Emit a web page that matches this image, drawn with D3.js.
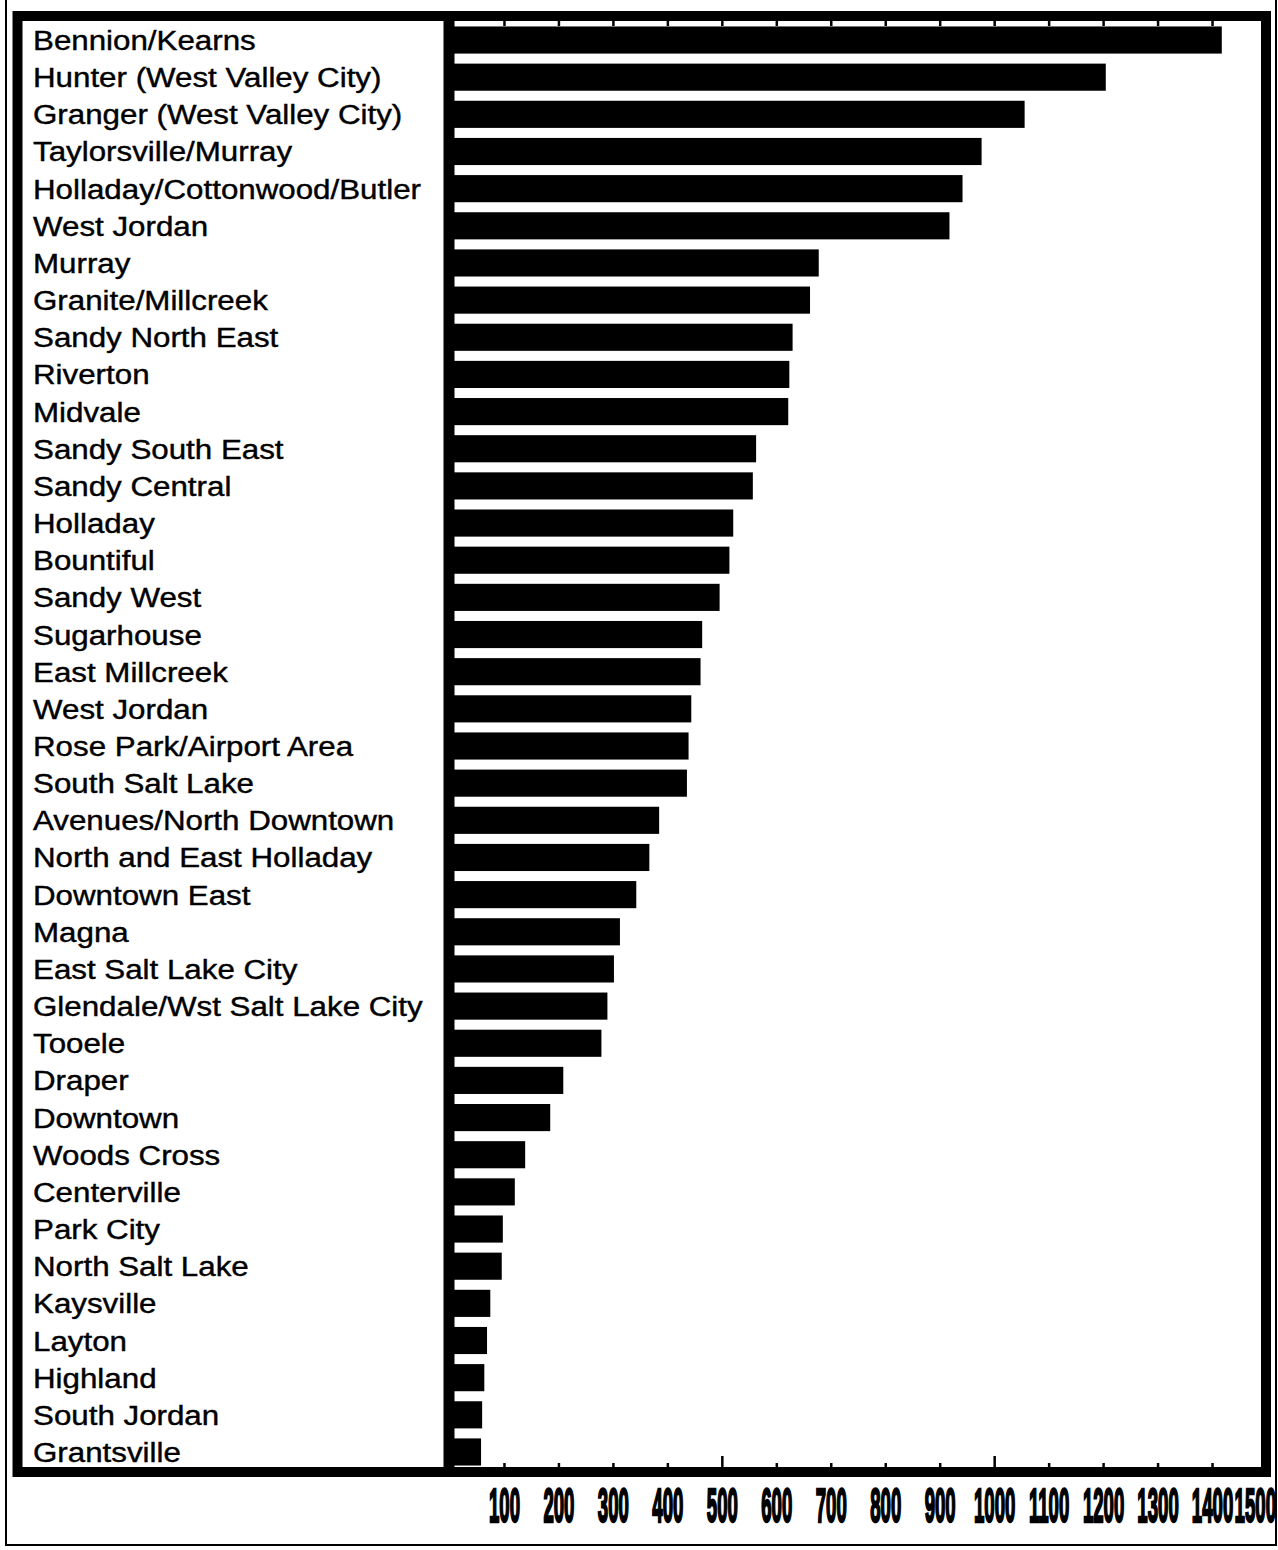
<!DOCTYPE html>
<html>
<head>
<meta charset="utf-8">
<script src="https://cdn.jsdelivr.net/npm/d3@7"></script>
<style>
	body { margin: 0; background: #fff; }
	svg { display: block; }
</style>
</head>
<body>
<svg id="chart" width="1278" height="1550"></svg>
<script>
// Areas, top to bottom, as printed
var areas = [
	"Bennion/Kearns", "Hunter (West Valley City)", "Granger (West Valley City)",
	"Taylorsville/Murray", "Holladay/Cottonwood/Butler", "West Jordan", "Murray",
	"Granite/Millcreek", "Sandy North East", "Riverton", "Midvale", "Sandy South East",
	"Sandy Central", "Holladay", "Bountiful", "Sandy West", "Sugarhouse", "East Millcreek",
	"West Jordan", "Rose Park/Airport Area", "South Salt Lake", "Avenues/North Downtown",
	"North and East Holladay", "Downtown East", "Magna", "East Salt Lake City",
	"Glendale/Wst Salt Lake City", "Tooele", "Draper", "Downtown", "Woods Cross",
	"Centerville", "Park City", "North Salt Lake", "Kaysville", "Layton", "Highland",
	"South Jordan", "Grantsville"
];

// Values
var counts = [
	1417, 1204, 1055, 976, 941, 917, 677, 661, 629, 623, 621, 562, 556, 520, 513,
	495, 463, 460, 443, 438, 435, 384, 366, 342, 312, 301, 289, 278, 208, 184,
	138, 119, 97, 95, 74, 68, 63, 59, 57
];

// Axis ticks
var tickVals = [100, 200, 300, 400, 500, 600, 700, 800, 900, 1000, 1100, 1200, 1300, 1400, 1500];

var chart = {};

chart.draw = () => {
	let svg = d3.select("#chart");

	// Frame geometry
	let frame = {left: 17.5, top: 16, right: 1266, bottom: 1472},
		axisX = 449;

	// Scales
	let x = d3.scaleLinear()
			.domain([0, 1500])
			.range([axisX + 1, 1267]),
		y = d3.scaleBand()
			.domain(d3.range(areas.length))
			.range([frame.top + 6, frame.bottom - 2])
			.paddingInner(0.27)
			.paddingOuter(0.12);

	// Thin outer border
	svg.append("rect")
		.attr("x", 6)
		.attr("y", -5)
		.attr("width", 1270)
		.attr("height", 1550)
		.attr("fill", "none")
		.attr("stroke", "#000")
		.attr("stroke-width", 2);

	// Bars
	svg.append("g")
		.selectAll("rect")
		.data(counts)
		.join("rect")
		.attr("x", x(0))
		.attr("y", (d, i) => y(i))
		.attr("width", (d) => x(d) - x(0))
		.attr("height", y.bandwidth())
		.attr("fill", "#000");

	// Area labels (wide printed face)
	svg.append("g")
		.selectAll("text")
		.data(areas)
		.join("text")
		.attr("transform", (d, i) => "translate(33," + (y(i) + y.bandwidth() / 2 + 10) + ") scale(1.16,1)")
		.style("font-family", "'Liberation Sans', Arial, sans-serif")
		.style("font-size", "27px")
		.attr("fill", "#000")
		.attr("stroke", "#000")
		.attr("stroke-width", 0.4)
		.text((d) => d);

	// Thick frame
	svg.append("rect")
		.attr("x", frame.left)
		.attr("y", frame.top)
		.attr("width", frame.right - frame.left)
		.attr("height", frame.bottom - frame.top)
		.attr("fill", "none")
		.attr("stroke", "#000")
		.attr("stroke-width", 10);

	// Vertical axis bar
	svg.append("line")
		.attr("x1", axisX)
		.attr("x2", axisX)
		.attr("y1", frame.top)
		.attr("y2", frame.bottom)
		.attr("stroke", "#000")
		.attr("stroke-width", 11);

	// Ticks along bottom (up) and top (down)
	let ticks = svg.append("g");
	ticks.selectAll("line.bot")
		.data(tickVals.slice(0, -1))
		.join("line")
		.attr("class", "bot")
		.attr("x1", (d) => x(d))
		.attr("x2", (d) => x(d))
		.attr("y1", frame.bottom - 4)
		.attr("y2", (d) => frame.bottom - (d % 500 == 0 ? 16 : 9))
		.attr("stroke", "#000")
		.attr("stroke-width", 2.5);
	ticks.selectAll("line.top")
		.data(tickVals.slice(0, -1))
		.join("line")
		.attr("class", "top")
		.attr("x1", (d) => x(d))
		.attr("x2", (d) => x(d))
		.attr("y1", frame.top + 4)
		.attr("y2", frame.top + 10)
		.attr("stroke", "#000")
		.attr("stroke-width", 2.5);

	// Tick labels (tall condensed digits); last one squeezed against the edge
	let last = tickVals[tickVals.length - 1];
	svg.append("g")
		.selectAll("text")
		.data(tickVals)
		.join("text")
		.attr("transform", (d) => "translate(" + (d == last ? 1276 : x(d)) + ",1522) scale(0.38,1)")
		.attr("text-anchor", (d) => d == last ? "end" : "middle")
		.style("font-family", "'Liberation Sans', Arial, sans-serif")
		.style("font-weight", "bold")
		.style("font-size", "49px")
		.attr("fill", "#000")
		.attr("stroke", "#000")
		.attr("stroke-width", 2.5)
		.text((d) => d);
}

chart.draw();
</script>
</body>
</html>
